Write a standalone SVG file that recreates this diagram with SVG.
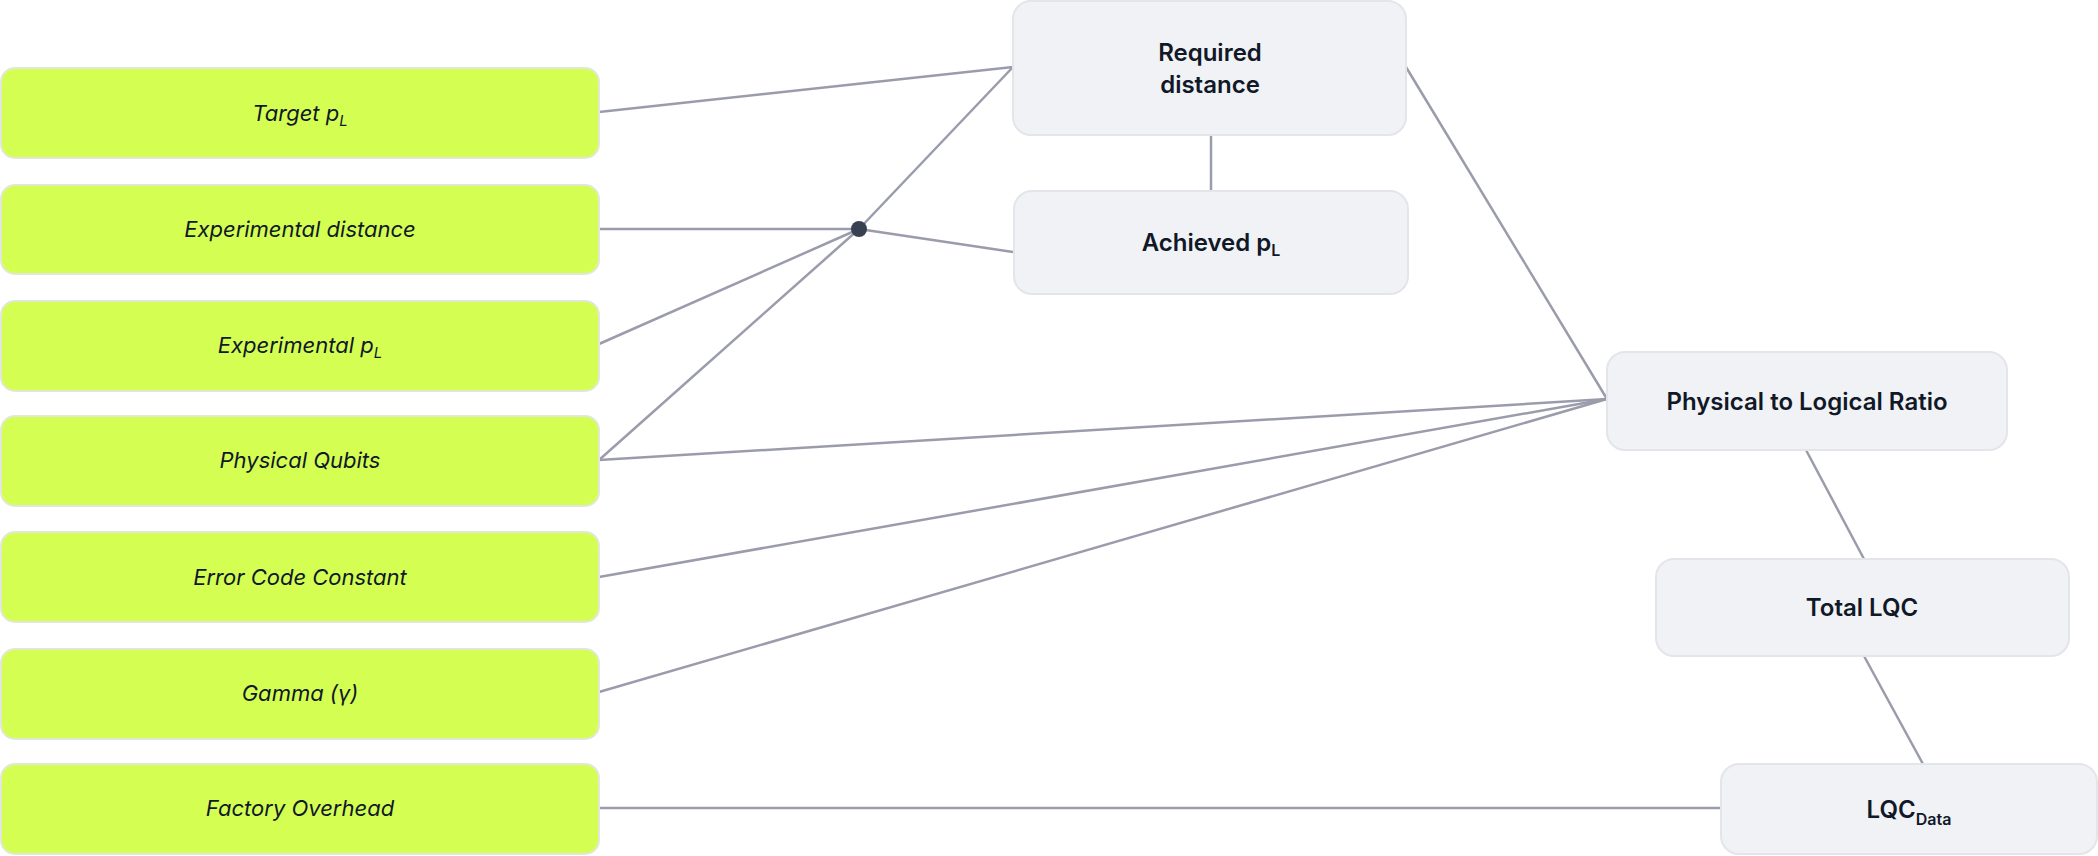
<svg xmlns="http://www.w3.org/2000/svg" width="2098" height="856" viewBox="0 0 2098 856">
<style>
.in{fill:#d4ff52;stroke:#e2e8d8;stroke-width:2}
.out{fill:#f0f2f5;stroke:#e3e5ea;stroke-width:2}
.it{font-family:Inter,"Liberation Sans",sans-serif;font-style:italic;font-size:22px;fill:#111827;text-anchor:middle}
.b{font-family:Inter,"Liberation Sans",sans-serif;font-weight:600;font-size:24px;fill:#111827;text-anchor:middle}
.c line{stroke:#9a9cab;stroke-width:2.5}
</style>
<rect width="2098" height="856" fill="#fff"/>
<g class="c" id="connectors">
<line x1="599" y1="112" x2="1013" y2="67"/>
<line x1="859" y1="229" x2="1013" y2="67"/>
<line x1="599" y1="229" x2="859" y2="229"/>
<line x1="859" y1="229" x2="1013" y2="252"/>
<line x1="599" y1="344" x2="859" y2="229"/>
<line x1="599" y1="460" x2="859" y2="229"/>
<line x1="1406" y1="67" x2="1607" y2="399"/>
<line x1="1211" y1="135" x2="1211" y2="191"/>
<line x1="599" y1="460" x2="1607" y2="399"/>
<line x1="599" y1="577" x2="1607" y2="399"/>
<line x1="599" y1="692" x2="1607" y2="399"/>
<line x1="1806" y1="450" x2="1864" y2="559"/>
<line x1="1864" y1="656" x2="1923" y2="764"/>
<line x1="599" y1="808" x2="1721" y2="808"/>
<circle cx="859" cy="229" r="8" fill="#374151"/>
</g>
<g id="target"><rect class="in" x="1" y="68" width="598" height="90" rx="14"/><text class="it" x="300" y="121">Target p<tspan font-size="15" dy="5">L</tspan></text></g>
<g id="expdist"><rect class="in" x="1" y="185" width="598" height="89" rx="14"/><text class="it" x="300" y="237">Experimental distance</text></g>
<g id="exppl"><rect class="in" x="1" y="301" width="598" height="90" rx="14"/><text class="it" x="300" y="353">Experimental p<tspan font-size="15" dy="5">L</tspan></text></g>
<g id="pq"><rect class="in" x="1" y="416" width="598" height="90" rx="14"/><text class="it" x="300" y="468">Physical Qubits</text></g>
<g id="ecc"><rect class="in" x="1" y="532" width="598" height="90" rx="14"/><text class="it" x="300" y="585">Error Code Constant</text></g>
<g id="gamma"><rect class="in" x="1" y="649" width="598" height="90" rx="14"/><text class="it" x="300" y="701">Gamma (γ)</text></g>
<g id="factory"><rect class="in" x="1" y="764" width="598" height="90" rx="14"/><text class="it" x="300" y="816">Factory Overhead</text></g>
<g id="required"><rect class="out" x="1013" y="1" width="393" height="134" rx="18"/><text class="b" x="1210" y="61">Required</text><text class="b" x="1210" y="93">distance</text></g>
<g id="achieved"><rect class="out" x="1014" y="191" width="394" height="103" rx="18"/><text class="b" x="1211" y="251">Achieved p<tspan font-size="16" dy="5">L</tspan></text></g>
<g id="plr"><rect class="out" x="1607" y="352" width="400" height="98" rx="18"/><text class="b" x="1807" y="410">Physical to Logical Ratio</text></g>
<g id="total"><rect class="out" x="1656" y="559" width="413" height="97" rx="18"/><text class="b" x="1862" y="616" font-size="27">Total LQC</text></g>
<g id="lqcdata"><rect class="out" x="1721" y="764" width="376" height="90" rx="18"/><text class="b" x="1909" y="818">LQC<tspan font-size="16" dy="7">Data</tspan></text></g>
</svg>
